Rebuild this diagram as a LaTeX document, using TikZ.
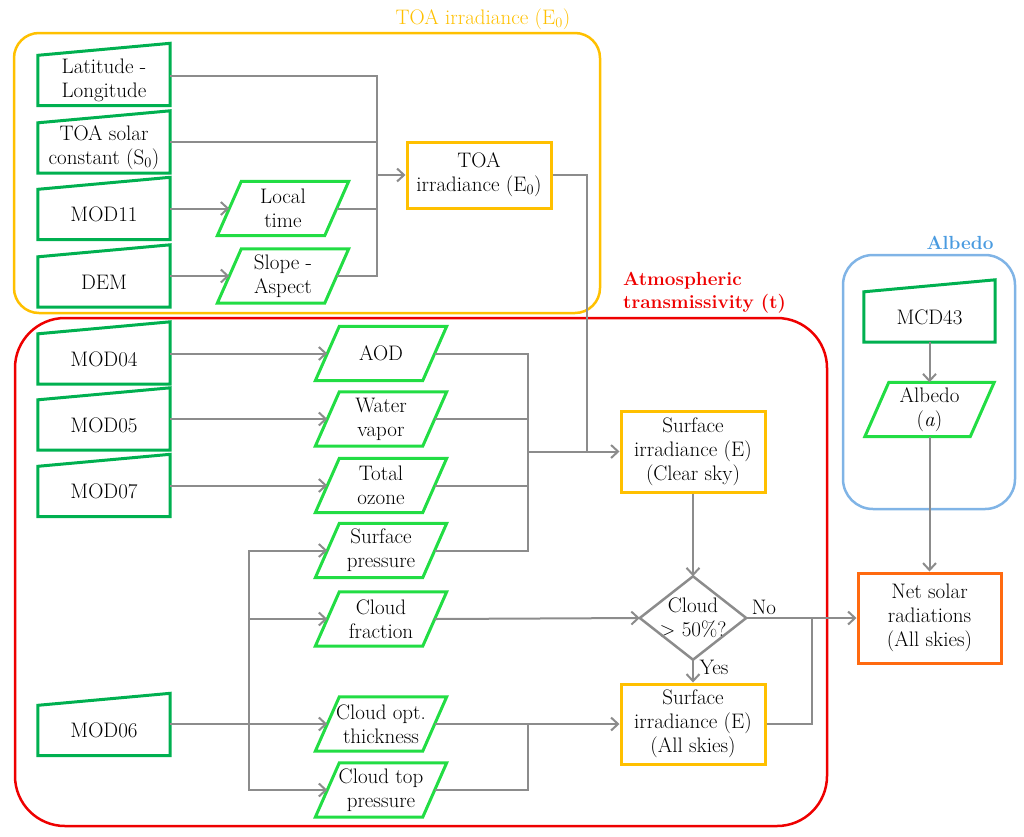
\documentclass[tikz,border=0pt]{standalone}
\usepackage{fontspec}
\usetikzlibrary{arrows.meta}
\definecolor{cgreen}{HTML}{00B050}
\definecolor{cpar}{HTML}{22DD44}
\definecolor{cyel}{HTML}{FFC000}
\definecolor{cred}{HTML}{EE0000}
\definecolor{cblue}{HTML}{80B4E6}
\definecolor{cbluet}{HTML}{4A9BE0}
\definecolor{corange}{HTML}{FF6A10}
\definecolor{cgray}{HTML}{8C8C8C}
\tikzset{
  txt/.style={font=\fontsize{21}{24}\selectfont, align=center, text=black},
  inbox/.style={txt, minimum width=132pt, minimum height=50pt, inner sep=0pt},
  parbox/.style={txt, minimum width=107pt, minimum height=54pt, inner sep=0pt},
  ybox/.style={txt, draw=cyel, line width=3pt, minimum width=144pt, inner sep=0pt},
  container/.style={line width=2.5pt, rounded corners=#1},
  conn/.style={draw=cgray, line width=2pt},
  arr/.style={conn, -{Straight Barb[length=7pt,width=13pt]}},
  ttl/.style={font=\fontsize{19}{23}\selectfont\bfseries, align=left, inner sep=0pt},
}
\newcommand{\maninout}[1]{\draw[cgreen, line width=3pt, line join=miter]
  (#1.south west) -- (#1.south east) -- ([yshift=12pt]#1.north east) -- (#1.north west) -- cycle;}
\newcommand{\paraout}[1]{\draw[cpar, line width=3pt, line join=miter]
  ([xshift=12pt]#1.north west) -- ([xshift=12pt]#1.north east) -- ([xshift=-12pt]#1.south east) -- ([xshift=-12pt]#1.south west) -- cycle;}
\begin{document}
\begin{tikzpicture}[x=1pt,y=-1pt]
\useasboundingbox (0,0) rectangle (1024,836);
% containers
\draw[cyel, container=25pt] (14,33) rectangle (600,313);
\draw[cred, container=50pt] (15,318) rectangle (827,826);
\draw[cblue, container=30pt] (843,255) rectangle (1015,509);
\node[txt, text=cyel] (ttoa) at (483,19) {TOA irradiance (E$_0$)};
\node[ttl, text=cred, anchor=west] (tatm) at (623,293) {Atmospheric\\transmissivity (t)};
\node[ttl, text=cbluet] (talb) at (960,243) {Albedo};
% input boxes
\node[inbox] (lat) at (104,80.5) {Latitude -\\Longitude};
\node[inbox] (toas) at (104,148) {TOA solar\\constant (S$_0$)};
\node[inbox] (mod11) at (104,214.5) {MOD11};
\node[inbox] (dem) at (104,282) {DEM};
\node[inbox] (mod04) at (104,359) {MOD04};
\node[inbox] (mod05) at (104,425) {MOD05};
\node[inbox] (mod07) at (104,491.5) {MOD07};
\node[inbox] (mod06) at (104,730.5) {MOD06};
\node[inbox, minimum width=131pt] (mcd43) at (929.5,317) {MCD43};
\foreach \n in {lat,toas,mod11,dem,mod04,mod05,mod07,mod06,mcd43} {\maninout{\n}}
% parallelograms
\node[parbox] (ltime) at (283,208.5) {Local\\time};
\node[parbox] (slope) at (283,276) {Slope -\\Aspect};
\node[parbox] (aod) at (381,353.5) {AOD};
\node[parbox] (wv) at (381,419) {Water\\vapor};
\node[parbox] (oz) at (381,485.5) {Total\\ozone};
\node[parbox] (sp) at (381,550.5) {Surface\\pressure};
\node[parbox] (cf) at (381,619) {Cloud\\fraction};
\node[parbox] (cot) at (381,724) {Cloud opt.\\thickness};
\node[parbox] (ctp) at (381,790) {Cloud top\\pressure};
\node[parbox, minimum width=105pt] (alb) at (929.5,409.5) {Albedo\\(\textit{a})};
\foreach \n in {ltime,slope,aod,wv,oz,sp,cf,cot,ctp,alb} {\paraout{\n}}
% process boxes
\node[ybox, minimum height=66pt] (toa) at (479,175) {TOA\\irradiance (E$_0$)};
\node[ybox, minimum height=81pt] (clear) at (693,451.5) {Surface\\irradiance (E)\\(Clear sky)};
\node[ybox, minimum height=80pt] (allsk) at (693,724) {Surface\\irradiance (E)\\(All skies)};
\node[ybox, draw=corange, minimum width=143pt, minimum height=90pt] (net) at (929.5,618) {Net solar\\radiations\\(All skies)};
\node[txt, minimum width=106pt, minimum height=83pt, inner sep=0pt] (dia) at (693,618) {Cloud\\$>$ 50\%?};
\draw[cgray, line width=2.5pt] (dia.north) -- (dia.east) -- (dia.south) -- (dia.west) -- cycle;
\node[txt, anchor=center] (no) at (764,607) {No};
\node[txt, anchor=center] (yes) at (714,667) {Yes};
% junctions
\coordinate (j1) at (377,175);
\coordinate (j2) at (587,451.5);
\coordinate (j3) at (528,451.5);
\coordinate (jt) at (249,724);
\coordinate (j4) at (528,724);
\coordinate (j5) at (812,618);
% TOA connectors
\draw[conn] ([yshift=5pt]lat.east) -| (j1);
\draw[conn] ([yshift=6pt]toas.east) -| (j1);
\draw[arr] (mod11.east |- ltime.west) -- (ltime.west);
\draw[arr] (dem.east |- slope.west) -- (slope.west);
\draw[conn] (ltime.east) -| (j1);
\draw[conn] (slope.east) -| (j1);
\draw[arr] (j1) -- (toa.west);
\draw[conn] (toa.east) -| (j2);
% atmospheric
\draw[arr] (mod04.east |- aod.west) -- (aod.west);
\draw[arr] (mod05.east |- wv.west) -- (wv.west);
\draw[arr] (mod07.east |- oz.west) -- (oz.west);
\draw[conn] (aod.east) -| (j3);
\draw[conn] (wv.east) -| (j3);
\draw[conn] (oz.east) -| (j3);
\draw[conn] (sp.east) -| (j3);
\draw[arr] (j3) -- (clear.west);
\draw[conn] (mod06.east |- cot.west) -- (jt);
\draw[arr] (jt) -- (cot.west);
\draw[arr] (jt) |- (sp.west);
\draw[arr] (jt) |- (cf.west);
\draw[arr] (jt) |- (ctp.west);
\draw[arr] (cot.east) -- (allsk.west);
\draw[conn] (ctp.east) -| (j4);
\draw[arr] (cf.east) -- (dia.west);
\draw[arr] (clear.south) -- (dia.north);
\draw[arr] (dia.south) -- (allsk.north);
\draw[arr] (dia.east) -- (net.west);
\draw[conn] (allsk.east) -| (j5);
% albedo
\draw[arr] (mcd43.south) -- (alb.north);
\draw[arr] (alb.south) -- (net.north);
\end{tikzpicture}
\end{document}
